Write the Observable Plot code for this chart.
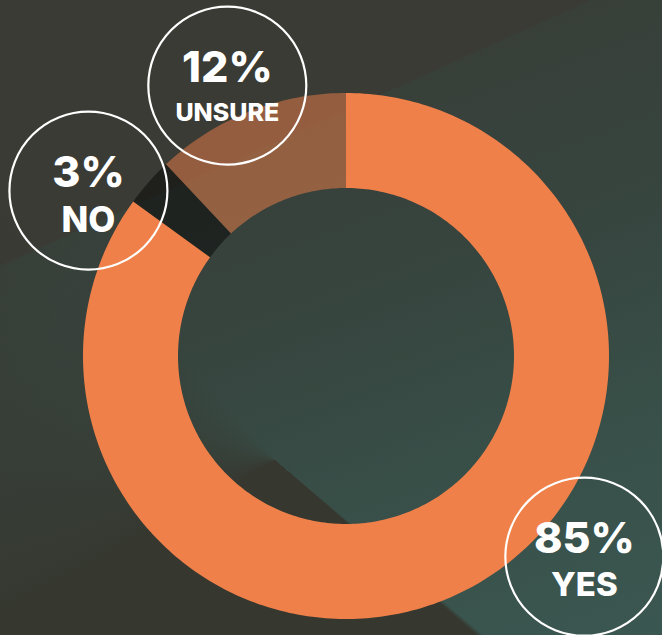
<!DOCTYPE html>
<html>
<head>
<meta charset="utf-8">
<script src="https://cdn.jsdelivr.net/npm/d3@7"></script>
<script src="https://cdn.jsdelivr.net/npm/@observablehq/plot@0.6"></script>
<style>
  html, body { margin: 0; padding: 0; background: #373931; }
  #chart {
    position: relative;
    width: 662px; height: 635px; overflow: hidden;
    background:
      conic-gradient(from 0deg at 275px 460px,
        rgba(54,56,48,0) 0deg, rgba(54,56,48,0) 130deg,
        rgba(54,56,48,1) 131deg, rgba(54,56,48,1) 240deg,
        rgba(54,56,48,0) 318deg),
      linear-gradient(155.8deg, #3a3b34 28.4%, rgba(58,59,52,0) 28.6%),
      linear-gradient(160deg, #393d37 0%, #383f39 25%, #37453f 50%, #385049 75%, #3b5751 100%);
  }
  #chart svg { display: block; }
</style>
</head>
<body>
<div id="chart"></div>
<script>
// ---- data ----
const categories = ["YES", "NO", "UNSURE"];
const values = [85, 3, 12];
const pctLabels = ["85%", "3%", "12%"];

// ---- layout / style (not data) ----
const R_OUT = 263, R_IN = 168;
const segStyle = {
  YES:    { fill: "#ef8049", opacity: 1 },
  NO:     { fill: "#000000", opacity: 0.45 },
  UNSURE: { fill: "#ef8049", opacity: 0.5 }
};
// label bubble placement: angle clockwise from 12 o'clock (deg), distance from centre (px), word font size, word offset
const labelPlacement = {
  YES:    { angle: 130.1, dist: 311.6, word: 33, wdy: 29 },
  NO:     { angle: -57.3, dist: 306.1, word: 35, wdy: 30 },
  UNSURE: { angle: -23.7, dist: 295.3, word: 25, wdy: 27 }
};

// ---- geometry built from data ----
const pie = d3.pie().sort(null).value(d => d.value)(
  categories.map((c, i) => ({ category: c, value: values[i] }))
);
const arcPoints = [];
for (const s of pie) {
  const n = Math.max(8, Math.ceil((s.endAngle - s.startAngle) / (Math.PI / 180)));
  const pts = [];
  for (let k = 0; k <= n; k++) {
    const a = s.startAngle + (s.endAngle - s.startAngle) * k / n;
    pts.push({ x: R_OUT * Math.sin(a), y: R_OUT * Math.cos(a) });
  }
  for (let k = n; k >= 0; k--) {
    const a = s.startAngle + (s.endAngle - s.startAngle) * k / n;
    pts.push({ x: R_IN * Math.sin(a), y: R_IN * Math.cos(a) });
  }
  pts.push(pts[0]);
  for (const p of pts) arcPoints.push({ ...p, category: s.data.category });
}

const labels = categories.map((c, i) => {
  const L = labelPlacement[c];
  const a = L.angle * Math.PI / 180;
  return { category: c, pct: pctLabels[i], x: L.dist * Math.sin(a), y: L.dist * Math.cos(a), word: L.word, wdy: L.wdy };
});

const font = "Inter, 'Open Sans', sans-serif";

const plot = Plot.plot({
  width: 662,
  height: 635,
  margin: 0,
  x: { domain: [-345.5, 316.5], axis: null },
  y: { domain: [-279.5, 355.5], axis: null },
  style: { background: "transparent", overflow: "visible" },
  marks: [
    ...categories.map(c => Plot.line(arcPoints.filter(p => p.category === c), {
      x: "x", y: "y",
      fill: segStyle[c].fill, fillOpacity: segStyle[c].opacity,
      stroke: "none", curve: "linear"
    })),
    Plot.dot(labels, { x: "x", y: "y", r: 79, stroke: "white", strokeWidth: 2.2, fill: "none" }),
    Plot.text(labels, {
      x: "x", y: "y", text: "pct", dy: -17,
      fontSize: 43, fontWeight: 800, fill: "white", fontFamily: font
    }),
    ...labels.map(l => Plot.text([l], {
      x: "x", y: "y", text: "category", dy: l.wdy,
      fontSize: l.word, fontWeight: 800, fill: "white", fontFamily: font
    }))
  ]
});
document.getElementById("chart").appendChild(plot);
</script>
</body>
</html>
